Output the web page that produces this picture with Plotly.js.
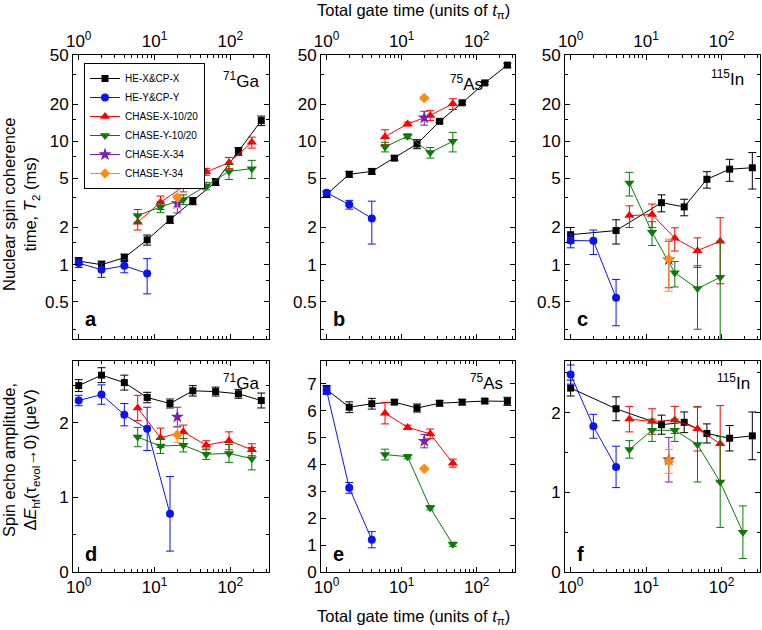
<!DOCTYPE html>
<html>
<head>
<meta charset="utf-8">
<script src="https://cdn.plot.ly/plotly-3.0.1.min.js"></script>
<style>
  html, body { margin: 0; padding: 0; background: #fff; }
  #chart { width: 762px; height: 630px; }
</style>
</head>
<body>
<div id="chart"></div>
<script>
// ---------- x values (total gate time, units of t_pi) ----------
const xHE = [1, 2, 4, 8, 16, 32, 64, 128, 256];
const xHEIn = [1, 4, 16, 32, 64, 128, 256];
const xHY4 = [1, 2, 4, 8];
const xHY3 = [1, 2, 4];
const xHY5 = [1, 2, 4, 8, 16];
const xCH6 = [6, 12, 24, 48, 96, 192];
const xCH5 = [6, 12, 24, 48, 96];
const xCH4 = [6, 12, 24, 48];
const x34 = [20];

// ---------- a: 71Ga, T2 (ms) ----------
const gaT2HeX = [1.07, 1.0, 1.14, 1.59, 2.32, 3.28, 4.68, 8.3, 14.7];
const gaT2HeXErr = [0.07, 0.07, 0.08, 0.15, 0.16, 0.22, 0.3, 0.6, 1.3];
const gaT2HeY = [1.03, 0.91, 0.98, 0.85];
const gaT2HeYErr = [0.08, 0.12, 0.12, 0.27];
const gaT2ChX = [2.21, 3.2, 4.29, 5.65, 6.7, 9.8];
const gaT2ChXErr = [0.3, 0.4, 0.4, 0.35, 0.7, 1.0];
const gaT2ChY = [2.5, 2.94, 3.38, 4.34, 5.7, 6.0];
const gaT2ChYErr = [0.3, 0.3, 0.3, 0.3, 0.8, 1.0];
const gaT2X34 = [3.13], gaT2X34Err = [0.5];
const gaT2Y34 = [3.5], gaT2Y34Err = [0.6];

// ---------- b: 75As, T2 (ms) ----------
const asT2HeX = [3.71, 5.4, 5.7, 7.3, 9.5, 14.5, 20.5, 29.7, 41.4];
const asT2HeXErr = [0.2, 0.3, 0.3, 0.3, 0.8, 0.4, 0.6, 0.8, 1.5];
const asT2HeY = [3.83, 3.07, 2.37];
const asT2HeYErr = [0.15, 0.25, 0.9];
const asT2ChX = [10.9, 13.8, 16.2, 20.1];
const asT2ChXErr = [1.5, 0.5, 1.5, 2.0];
const asT2ChY = [9.0, 11.0, 8.1, 10.0];
const asT2ChYErr = [0.8, 0.5, 0.8, 1.8];
const asT2X34 = [15.5], asT2X34Err = [2.0];
const asT2Y34 = [22.4], asT2Y34Err = [0.6];

// ---------- c: 115In, T2 (ms) ----------
const inT2HeX = [1.75, 1.89, 3.18, 2.94, 4.92, 5.94, 6.1];
const inT2HeXErr = [0.25, 0.42, 0.5, 0.45, 0.75, 1.2, 2.0];
const inT2HeY = [1.57, 1.56, 0.54];
const inT2HeYErr = [0.2, 0.35, 0.22];
const inT2ChX = [2.5, 2.55, 1.64, 1.3, 1.55];
const inT2ChXErr = [0.5, 0.55, 0.35, 0.35, 0.85];
const inT2ChY = [4.6, 1.83, 0.86, 0.64, 0.79];
const inT2ChYErr = [1.0, 0.4, 0.2, 0.34, 0.76];
const inT2X34 = [1.1], inT2X34Err = [0.45];
const inT2Y34 = [1.11], inT2Y34Err = [0.5];

// ---------- d: 71Ga, echo amplitude (ueV) ----------
const gaAmHeX = [2.5, 2.64, 2.54, 2.34, 2.26, 2.43, 2.42, 2.39, 2.3];
const gaAmHeXErr = [0.08, 0.1, 0.1, 0.07, 0.06, 0.07, 0.06, 0.06, 0.1];
const gaAmHeY = [2.3, 2.38, 2.11, 1.92, 0.78];
const gaAmHeYErr = [0.07, 0.13, 0.15, 0.29, 0.5];
const gaAmChX = [2.2, 1.8, 1.88, 1.7, 1.76, 1.64];
const gaAmChXErr = [0.17, 0.13, 0.09, 0.06, 0.12, 0.08];
const gaAmChY = [1.81, 1.69, 1.7, 1.58, 1.59, 1.52];
const gaAmChYErr = [0.13, 0.1, 0.09, 0.07, 0.12, 0.15];
const gaAmX34 = [2.08], gaAmX34Err = [0.13];
const gaAmY34 = [1.84], gaAmY34Err = [0.1];

// ---------- e: 75As, echo amplitude (ueV) ----------
const asAmHeX = [6.79, 6.13, 6.26, 6.32, 6.1, 6.28, 6.32, 6.36, 6.35];
const asAmHeXErr = [0.15, 0.2, 0.2, 0.08, 0.15, 0.1, 0.1, 0.08, 0.15];
const asAmHeY = [6.75, 3.13, 1.2];
const asAmHeYErr = [0.15, 0.2, 0.3];
const asAmChX = [5.91, 5.38, 5.14, 4.05];
const asAmChXErr = [0.4, 0.08, 0.18, 0.15];
const asAmChY = [4.37, 4.29, 2.39, 1.03];
const asAmChYErr = [0.2, 0.08, 0.08, 0.08];
const asAmX34 = [4.87], asAmX34Err = [0.25];
const asAmY34 = [3.84], asAmY34Err = [0.05];

// ---------- f: 115In, echo amplitude (ueV) ----------
const inAmHeX = [2.31, 2.05, 1.85, 1.88, 1.74, 1.68, 1.71];
const inAmHeXErr = [0.1, 0.15, 0.12, 0.13, 0.12, 0.16, 0.3];
const inAmHeY = [2.48, 1.83, 1.32];
const inAmHeYErr = [0.12, 0.15, 0.26];
const inAmChX = [1.92, 1.89, 1.91, 1.8, 1.61];
const inAmChXErr = [0.16, 0.16, 0.17, 0.28, 0.48];
const inAmChY = [1.54, 1.78, 1.78, 1.6, 1.13, 0.5];
const inAmChYErr = [0.11, 0.14, 0.14, 0.47, 0.57, 0.33];
const inAmX34 = [1.41], inAmX34Err = [0.28];
const inAmY34 = [1.39], inAmY34Err = [0.15];

// ---------- tick labels ----------
const xTickVals = [1, 10, 100];
const xTickText = ['10<sup>0</sup>', '10<sup>1</sup>', '10<sup>2</sup>'];
const xMinorVals = [2, 3, 4, 5, 6, 7, 8, 9, 20, 30, 40, 50, 60, 70, 80, 90, 200, 300];
const t2TickVals = [0.5, 1, 2, 5, 10, 20, 50];
const t2TickText = ['0.5', '1', '2', '5', '10', '20', '50'];
const t2MinorVals = [0.3, 0.75, 1.5, 3.5, 7.5, 15, 35];

const seriesNames = ['HE-X&CP-X', 'HE-Y&CP-Y', 'CHASE-X-10/20', 'CHASE-Y-10/20', 'CHASE-X-34', 'CHASE-Y-34'];
const isotopes = ['<sup>71</sup>Ga', '<sup>75</sup>As', '<sup>115</sup>In'];
const panelLetters = ['a', 'b', 'c', 'd', 'e', 'f'];

// ---------- styles ----------
const styles = [
  { color: '#000000', symbol: 'square', size: 7 },
  { color: '#0a14f0', symbol: 'circle', size: 8 },
  { color: '#ff0000', symbol: 'triangle-up', size: 9 },
  { color: '#0b7a0b', symbol: 'triangle-down', size: 9 },
  { color: '#7a1fb0', symbol: 'star', size: 10 },
  { color: '#ff8c10', symbol: 'diamond', size: 8 }
];
// isotope label anchor (right edge, middle) in axis-domain units, per panel
const isoPos = [[0.96, 0.912], [0.845, 0.9], [0.93, 0.92], [0.96, 0.9], [0.95, 0.9], [0.96, 0.9]];

const FONT = 'Liberation Sans, Arial, Helvetica, sans-serif';

function trace(i, xs, ys, es, ax, legend) {
  const s = styles[i];
  return {
    type: 'scatter', mode: 'lines+markers',
    x: xs, y: ys,
    xaxis: 'x' + ax, yaxis: 'y' + ax,
    name: seriesNames[i], legendgroup: seriesNames[i], showlegend: legend,
    line: { color: s.color, width: 1 },
    marker: { color: s.color, symbol: s.symbol, size: s.size, line: { width: 0 } },
    error_y: { type: 'data', array: es, color: s.color, thickness: 1, width: 4 },
    hoverinfo: 'x+y'
  };
}

const panels = [
  { ax: '',  he: [xHE, gaT2HeX, gaT2HeXErr],   hy: [xHY4, gaT2HeY, gaT2HeYErr], cx: [xCH6, gaT2ChX, gaT2ChXErr], cy: [xCH6, gaT2ChY, gaT2ChYErr], x34: [gaT2X34, gaT2X34Err], y34: [gaT2Y34, gaT2Y34Err] },
  { ax: '2', he: [xHE, asT2HeX, asT2HeXErr],   hy: [xHY3, asT2HeY, asT2HeYErr], cx: [xCH4, asT2ChX, asT2ChXErr], cy: [xCH4, asT2ChY, asT2ChYErr], x34: [asT2X34, asT2X34Err], y34: [asT2Y34, asT2Y34Err] },
  { ax: '3', he: [xHEIn, inT2HeX, inT2HeXErr], hy: [xHY3, inT2HeY, inT2HeYErr], cx: [xCH5, inT2ChX, inT2ChXErr], cy: [xCH5, inT2ChY, inT2ChYErr], x34: [inT2X34, inT2X34Err], y34: [inT2Y34, inT2Y34Err] },
  { ax: '4', he: [xHE, gaAmHeX, gaAmHeXErr],   hy: [xHY5, gaAmHeY, gaAmHeYErr], cx: [xCH6, gaAmChX, gaAmChXErr], cy: [xCH6, gaAmChY, gaAmChYErr], x34: [gaAmX34, gaAmX34Err], y34: [gaAmY34, gaAmY34Err] },
  { ax: '5', he: [xHE, asAmHeX, asAmHeXErr],   hy: [xHY3, asAmHeY, asAmHeYErr], cx: [xCH4, asAmChX, asAmChXErr], cy: [xCH4, asAmChY, asAmChYErr], x34: [asAmX34, asAmX34Err], y34: [asAmY34, asAmY34Err] },
  { ax: '6', he: [xHEIn, inAmHeX, inAmHeXErr], hy: [xHY3, inAmHeY, inAmHeYErr], cx: [xCH5, inAmChX, inAmChXErr], cy: [xCH6, inAmChY, inAmChYErr], x34: [inAmX34, inAmX34Err], y34: [inAmY34, inAmY34Err] }
];

const data = [];
panels.forEach((p, k) => {
  const lg = k === 0;
  data.push(trace(0, p.he[0], p.he[1], p.he[2], p.ax, lg));
  data.push(trace(1, p.hy[0], p.hy[1], p.hy[2], p.ax, lg));
  data.push(trace(2, p.cx[0], p.cx[1], p.cx[2], p.ax, lg));
  data.push(trace(3, p.cy[0], p.cy[1], p.cy[2], p.ax, lg));
  data.push(trace(4, x34, p.x34[0], p.x34[1], p.ax, lg));
  data.push(trace(5, x34, p.y34[0], p.y34[1], p.ax, lg));
});

// ---------- axes ----------
const W = 762, H = 630;
const colDom = [[73 / W, 269 / W], [321 / W, 515 / W], [565 / W, 760 / W]];
const topDom = [(H - 339) / H, (H - 55) / H];
const botDom = [(H - 572) / H, (H - 361) / H];

const common = {
  ticks: 'inside', ticklen: 5, tickwidth: 1, tickcolor: '#000',
  showline: true, linecolor: '#000', linewidth: 1, mirror: 'allticks',
  showgrid: false, zeroline: false,
  tickfont: { family: FONT, size: 17, color: '#000' }
};

function xAxis(col, top, anchor) {
  return Object.assign({}, common, {
    type: 'log', domain: colDom[col], anchor: anchor,
    range: [-0.075, 2.51], side: top ? 'top' : 'bottom',
    tickmode: 'array', tickvals: xTickVals, ticktext: xTickText,
    minor: { ticks: 'inside', ticklen: 3, tickcolor: '#000', tickmode: 'array', tickvals: xMinorVals, showgrid: false }
  });
}
function yLog(anchor) {
  return Object.assign({}, common, {
    type: 'log', domain: topDom, anchor: anchor,
    range: [Math.log10(0.25), Math.log10(50)],
    tickmode: 'array', tickvals: t2TickVals, ticktext: t2TickText,
    minor: { ticks: 'inside', ticklen: 3, tickcolor: '#000', tickmode: 'array', tickvals: t2MinorVals, showgrid: false }
  });
}
function yLin(anchor, top, minorStep) {
  const a = Object.assign({}, common, {
    type: 'linear', domain: botDom, anchor: anchor,
    range: [0, top], tickmode: 'linear', tick0: 0, dtick: 1
  });
  if (minorStep) a.minor = { ticks: 'inside', ticklen: 3, tickcolor: '#000', dtick: minorStep, showgrid: false };
  return a;
}

const layout = {
  width: W, height: H,
  margin: { l: 0, r: 0, t: 0, b: 0 },
  paper_bgcolor: '#fff', plot_bgcolor: '#fff',
  font: { family: FONT, size: 14, color: '#000' },
  showlegend: true,
  legend: {
    x: 84 / W, y: (H - 63) / H, xanchor: 'left', yanchor: 'top',
    bordercolor: '#000', borderwidth: 1, bgcolor: '#fff',
    font: { family: FONT, size: 10, color: '#000' },
    tracegroupgap: 0
  },
  xaxis: xAxis(0, true, 'y'),   yaxis: yLog('x'),
  xaxis2: xAxis(1, true, 'y2'), yaxis2: yLog('x2'),
  xaxis3: xAxis(2, true, 'y3'), yaxis3: yLog('x3'),
  xaxis4: xAxis(0, false, 'y4'), yaxis4: yLin('x4', 2.83, 0.5),
  xaxis5: xAxis(1, false, 'y5'), yaxis5: yLin('x5', 7.85, null),
  xaxis6: xAxis(2, false, 'y6'), yaxis6: yLin('x6', 2.65, 0.5),
  annotations: []
};

const axIds = ['', '2', '3', '4', '5', '6'];
axIds.forEach((id, k) => {
  layout.annotations.push({
    xref: 'x' + id + ' domain', yref: 'y' + id + ' domain',
    x: 0.05, y: 0.025, xanchor: 'left', yanchor: 'bottom',
    text: '<b>' + panelLetters[k] + '</b>', showarrow: false,
    font: { family: FONT, size: 20, color: '#000' }
  });
  layout.annotations.push({
    xref: 'x' + id + ' domain', yref: 'y' + id + ' domain',
    x: isoPos[k][0], y: isoPos[k][1], xanchor: 'right', yanchor: 'middle',
    text: isotopes[k % 3], showarrow: false,
    font: { family: FONT, size: 17, color: '#000' }
  });
});

const gateTitle = 'Total gate time (units of <i>t</i><sub>π</sub>)';
const titleFont = { family: FONT, size: 16.5, color: '#000' };
layout.annotations.push(
  { xref: 'paper', yref: 'paper', x: 413 / W, y: (H - 11) / H, text: gateTitle, showarrow: false,
    xanchor: 'center', yanchor: 'middle', font: titleFont },
  { xref: 'paper', yref: 'paper', x: 413 / W, y: (H - 617) / H, text: gateTitle, showarrow: false,
    xanchor: 'center', yanchor: 'middle', font: titleFont },
  { xref: 'paper', yref: 'paper', x: 21 / W, y: (H - 205) / H, textangle: -90, showarrow: false,
    text: 'Nuclear spin coherence<br>time, <i>T</i><sub>2</sub> (ms)',
    xanchor: 'center', yanchor: 'middle', font: titleFont },
  { xref: 'paper', yref: 'paper', x: 21 / W, y: (H - 460) / H, textangle: -90, showarrow: false,
    text: 'Spin echo amplitude,<br>Δ<i>E</i><sub>hf</sub>(τ<sub>evol</sub>→0) (μeV)',
    xanchor: 'center', yanchor: 'middle', font: titleFont }
);

Plotly.newPlot('chart', data, layout, { displayModeBar: false, staticPlot: true });
</script>
</body>
</html>
